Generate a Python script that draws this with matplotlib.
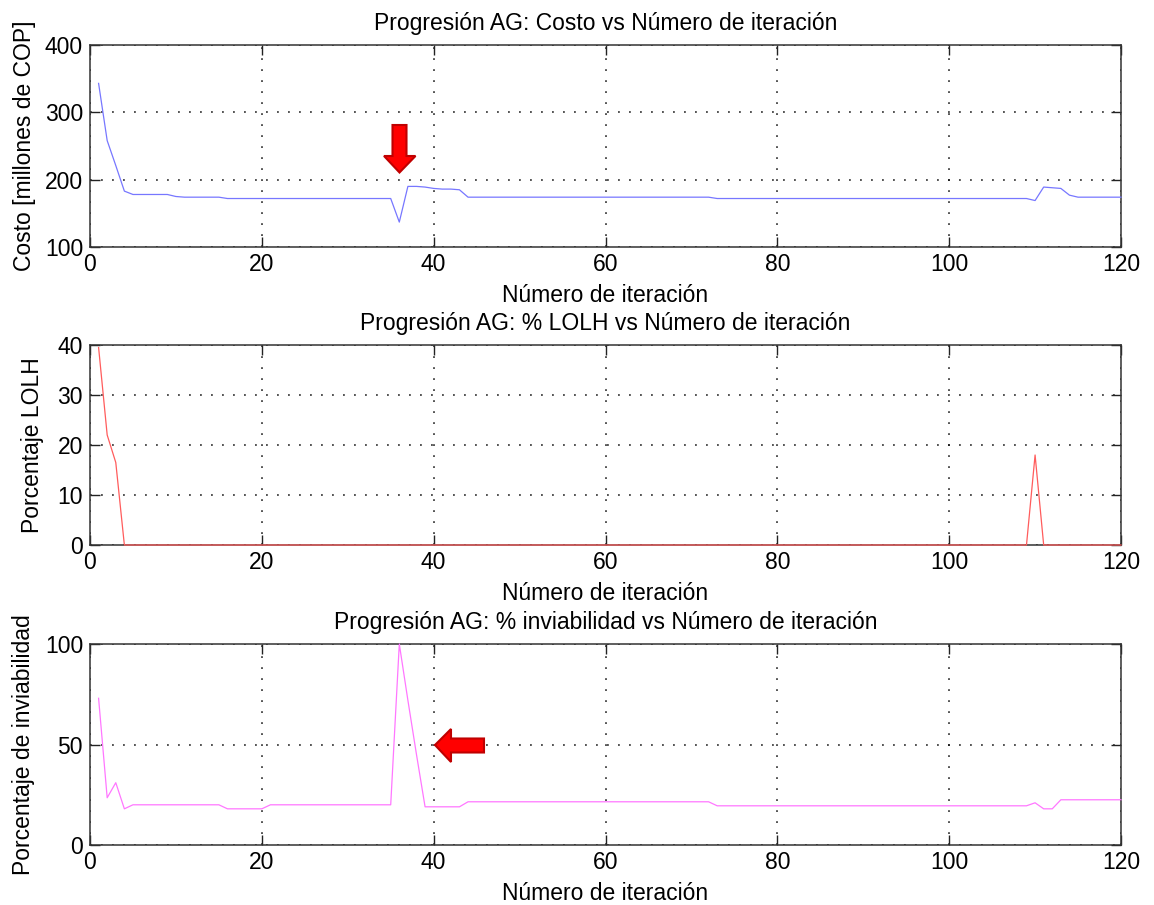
import matplotlib
matplotlib.use("Agg")
import matplotlib.pyplot as plt
from matplotlib.patches import Polygon

plt.rcParams['font.family'] = ['Liberation Sans', 'DejaVu Sans']

iterations = list(range(1, 121))

costo = [
    343, 258, 221, 183, 178, 178, 178, 178, 178, 175,
    174, 174, 174, 174, 174, 172, 172, 172, 172, 172,
    172, 172, 172, 172, 172, 172, 172, 172, 172, 172,
    172, 172, 172, 172, 172, 137, 190, 190, 189, 187,
    186, 186, 185, 174, 174, 174, 174, 174, 174, 174,
    174, 174, 174, 174, 174, 174, 174, 174, 174, 174,
    174, 174, 174, 174, 174, 174, 174, 174, 174, 174,
    174, 174, 172, 172, 172, 172, 172, 172, 172, 172,
    172, 172, 172, 172, 172, 172, 172, 172, 172, 172,
    172, 172, 172, 172, 172, 172, 172, 172, 172, 172,
    172, 172, 172, 172, 172, 172, 172, 172, 172, 169,
    189, 188, 187, 177, 174, 174, 174, 174, 174, 174,
]

lolh = [
    39.5, 22, 16.5, 0, 0, 0, 0, 0, 0, 0,
    0, 0, 0, 0, 0, 0, 0, 0, 0, 0,
    0, 0, 0, 0, 0, 0, 0, 0, 0, 0,
    0, 0, 0, 0, 0, 0, 0, 0, 0, 0,
    0, 0, 0, 0, 0, 0, 0, 0, 0, 0,
    0, 0, 0, 0, 0, 0, 0, 0, 0, 0,
    0, 0, 0, 0, 0, 0, 0, 0, 0, 0,
    0, 0, 0, 0, 0, 0, 0, 0, 0, 0,
    0, 0, 0, 0, 0, 0, 0, 0, 0, 0,
    0, 0, 0, 0, 0, 0, 0, 0, 0, 0,
    0, 0, 0, 0, 0, 0, 0, 0, 0, 18,
    0, 0, 0, 0, 0, 0, 0, 0, 0, 0,
]

inviabilidad = [
    73, 23.5, 31, 18, 20, 20, 20, 20, 20, 20,
    20, 20, 20, 20, 20, 18, 18, 18, 18, 18,
    20, 20, 20, 20, 20, 20, 20, 20, 20, 20,
    20, 20, 20, 20, 20, 100, 72, 45, 19, 19,
    19, 19, 19, 21.5, 21.5, 21.5, 21.5, 21.5, 21.5, 21.5,
    21.5, 21.5, 21.5, 21.5, 21.5, 21.5, 21.5, 21.5, 21.5, 21.5,
    21.5, 21.5, 21.5, 21.5, 21.5, 21.5, 21.5, 21.5, 21.5, 21.5,
    21.5, 21.5, 19.5, 19.5, 19.5, 19.5, 19.5, 19.5, 19.5, 19.5,
    19.5, 19.5, 19.5, 19.5, 19.5, 19.5, 19.5, 19.5, 19.5, 19.5,
    19.5, 19.5, 19.5, 19.5, 19.5, 19.5, 19.5, 19.5, 19.5, 19.5,
    19.5, 19.5, 19.5, 19.5, 19.5, 19.5, 19.5, 19.5, 19.5, 21,
    18, 18, 22.5, 22.5, 22.5, 22.5, 22.5, 22.5, 22.5, 22.5,
]

xticks = [0, 20, 40, 60, 80, 100, 120]
titles = [
    "Progresión AG: Costo vs Número de iteración",
    "Progresión AG: % LOLH vs Número de iteración",
    "Progresión AG: % inviabilidad vs Número de iteración",
]
ylabels = ["Costo [millones de COP]", "Porcentaje LOLH", "Porcentaje de inviabilidad"]
xlabel = "Número de iteración"
series = [costo, lolh, inviabilidad]
colors = ["#7777ff", "#ff5c5c", "#ff77ff"]
ylims = [(100, 400), (0, 40), (0, 100)]
yticks = [[100, 200, 300, 400], [0, 10, 20, 30, 40], [0, 50, 100]]
ylabelpads = [6, 10, 7]

W, H = 1154, 905
fig = plt.figure(figsize=(W / 100, H / 100), dpi=100)

# axes boxes in pixels (left, top, right, bottom)
boxes = [(90, 45, 1121, 247), (90, 345, 1121, 545), (90, 644, 1121, 845)]
FS = 16.5
for i, (l, t, r, b) in enumerate(boxes):
    ax = fig.add_axes([l / W, 1 - b / H, (r - l) / W, (b - t) / H])
    ax.plot(iterations, series[i], color=colors[i], lw=0.9, zorder=3, clip_on=False)
    ax.set_xlim(0, 120)
    ax.set_ylim(*ylims[i])
    ax.set_xticks(xticks)
    ax.set_yticks(yticks[i])
    ax.tick_params(direction='in', top=True, right=True, length=7, width=1,
                   labelsize=FS, colors='#222222', labelcolor='black', pad=5)
    ax.tick_params(axis='x', pad=4)
    for s in ax.spines.values():
        s.set_color('#333333')
        s.set_linewidth(1.1)
    ax.grid(True, color='black', linestyle=(0, (1.2, 6.0)), linewidth=1.1, alpha=0.85)
    ax.set_axisbelow(True)
    ax.set_title(titles[i], fontsize=FS, pad=11)
    ax.set_xlabel(xlabel, fontsize=FS, labelpad=6)
    ax.set_ylabel(ylabels[i], fontsize=FS, labelpad=ylabelpads[i])


def px_poly(points):
    return [(x / W, 1 - y / H) for x, y in points]


arrow_down = [(392.5, 125), (406.5, 125), (406.5, 156), (415.5, 156),
              (399.5, 172.5), (384, 156), (392.5, 156)]
arrow_left = [(435, 745), (451, 729), (451, 738.5), (484, 738.5),
              (484, 752.5), (451, 752.5), (451, 762)]
for pts in (arrow_down, arrow_left):
    fig.patches.append(Polygon(px_poly(pts), closed=True, transform=fig.transFigure,
                               facecolor='#ff0000', edgecolor='#c00000', lw=1.5,
                               zorder=10))

fig.savefig("out.png", dpi=100)
